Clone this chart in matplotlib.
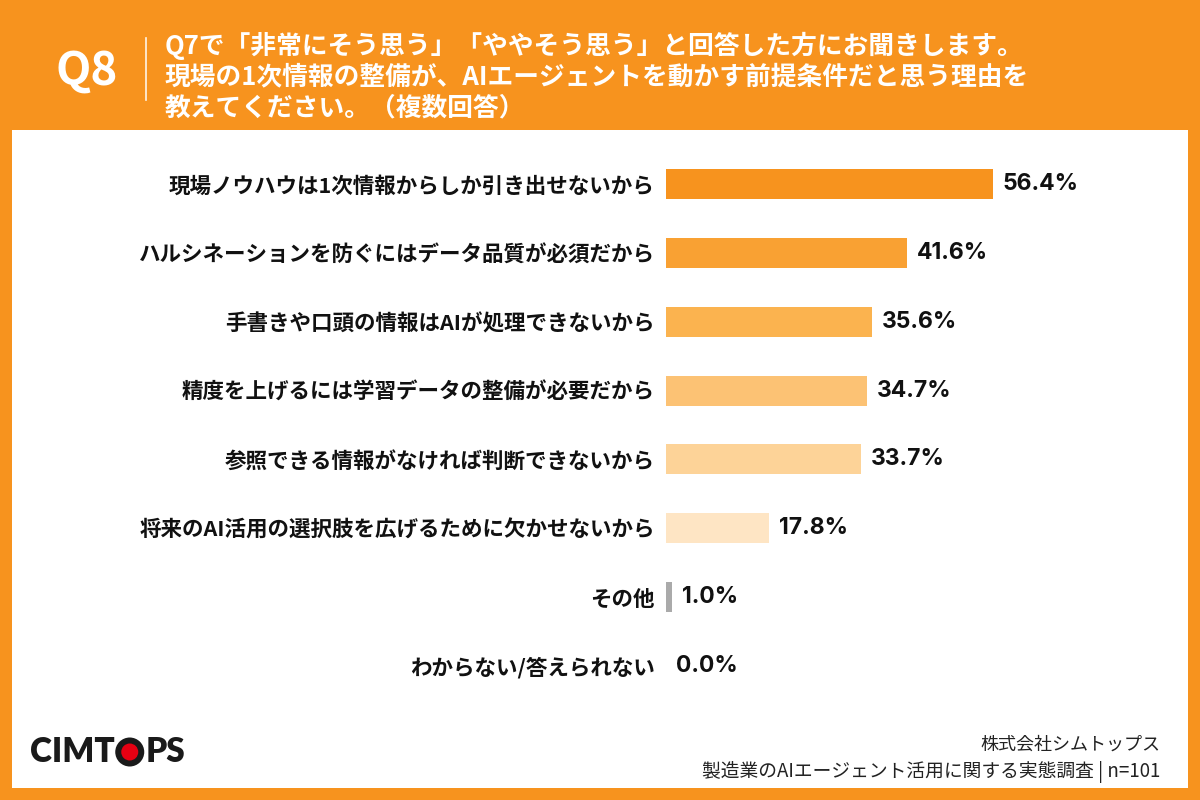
import matplotlib
matplotlib.use("Agg")
import matplotlib.pyplot as plt
from matplotlib.patches import Rectangle, Ellipse

plt.rcParams['font.family'] = ['Noto Sans CJK JP', 'DejaVu Sans']

categories = [
    "現場ノウハウは1次情報からしか引き出せないから",
    "ハルシネーションを防ぐにはデータ品質が必須だから",
    "手書きや口頭の情報はAIが処理できないから",
    "精度を上げるには学習データの整備が必要だから",
    "参照できる情報がなければ判断できないから",
    "将来のAI活用の選択肢を広げるために欠かせないから",
    "その他",
    "わからない/答えられない",
]
values = [56.4, 41.6, 35.6, 34.7, 33.7, 17.8, 1.0, 0.0]
bar_colors = ["#F7931E", "#F9A133", "#FBB34F", "#FCC274", "#FDD398", "#FEE5C4", "#AAAAAA", "#AAAAAA"]

title_lines = [
    "Q7で「非常にそう思う」「ややそう思う」と回答した方にお聞きします。",
    "現場の1次情報の整備が、AIエージェントを動かす前提条件だと思う理由を",
    "教えてください。（複数回答）",
]
qnum = "Q8"
footer1 = "株式会社シムトップス"
footer2 = "製造業のAIエージェント活用に関する実態調査 | n=101"

ORANGE = "#F7931E"
W, H = 1200, 800
fig = plt.figure(figsize=(12, 8), dpi=100)
fig.patch.set_facecolor(ORANGE)

def fx(px):
    return px / W

def fy(py):
    return 1 - py / H

# white panel
fig.add_artist(Rectangle((fx(12), fy(788)), fx(1188) - fx(12), fy(130) - fy(788),
                         transform=fig.transFigure, facecolor="white", edgecolor="none", zorder=0))

# header
fig.text(fx(87), fy(72), qnum, color="white", fontsize=33, fontweight="bold",
         ha="center", va="center", family=["Noto Sans CJK JP"])
fig.add_artist(plt.Line2D([fx(146), fx(146)], [fy(38), fy(100)], transform=fig.transFigure,
                          color="white", lw=1.2, alpha=0.9))
for i, line in enumerate(title_lines):
    fig.text(fx(165), fy(46 + 31 * i), line, color="white", fontsize=18.5, fontweight="bold",
             ha="left", va="center")

# axes
left, right = 666, 1166
top, bottom = 150, 700
ax = fig.add_axes([fx(left), fy(bottom), fx(right) - fx(left), fy(top) - fy(bottom)])
ax.set_facecolor("none")
px_per_pct = 5.8
ax.set_xlim(0, (right - left) / px_per_pct)
step = 68.85
y_top = -(184 - top) / step
y_bot = 7 + (bottom - 666) / step
ax.set_ylim(y_bot, y_top)

pos = list(range(len(categories)))
ax.barh(pos, values, height=30 / step, color=bar_colors, edgecolor="none")
for p, v in zip(pos, values):
    ax.annotate(f"{v:.1f}%", xy=(v, p), xytext=(7, 0), textcoords="offset points",
                ha="left", va="center", fontsize=16.5, fontweight="bold", color="#111111",
                family=["Inter", "DejaVu Sans"])

ax.set_yticks(pos)
ax.set_yticklabels(categories, fontsize=15.5, fontweight="bold", color="#111111")
ax.tick_params(axis="y", length=0, pad=8)
ax.tick_params(axis="x", bottom=False, labelbottom=False)
for s in ax.spines.values():
    s.set_visible(False)

# logo
r = fig.canvas.get_renderer()
logo_font = ["Lato", "DejaVu Sans"]
ly = 752
t1 = fig.text(fx(30), fy(ly), "CIMT", fontsize=24, fontweight="heavy", color="#1a1a1a",
              ha="left", va="center", family=logo_font)
bb = t1.get_window_extent(renderer=r)
ox = bb.x1 + 15
oy = fy(ly) * H
fig.add_artist(Ellipse((ox / W, oy / H), 29 / W, 29 / H, transform=fig.transFigure,
                       facecolor="#1a1a1a", edgecolor="none"))
fig.add_artist(Ellipse((ox / W, oy / H), 17 / W, 17 / H, transform=fig.transFigure,
                       facecolor="#E60012", edgecolor="none"))
fig.text((ox + 16) / W, fy(ly), "PS", fontsize=24, fontweight="heavy", color="#1a1a1a",
         ha="left", va="center", family=logo_font)

# footer
fig.text(fx(1160), fy(745), footer1, fontsize=13, color="#222222", ha="right", va="center")
fig.text(fx(1160), fy(772), footer2, fontsize=13.5, color="#222222", ha="right", va="center")

fig.savefig("out.png", dpi=100, facecolor=fig.get_facecolor())
